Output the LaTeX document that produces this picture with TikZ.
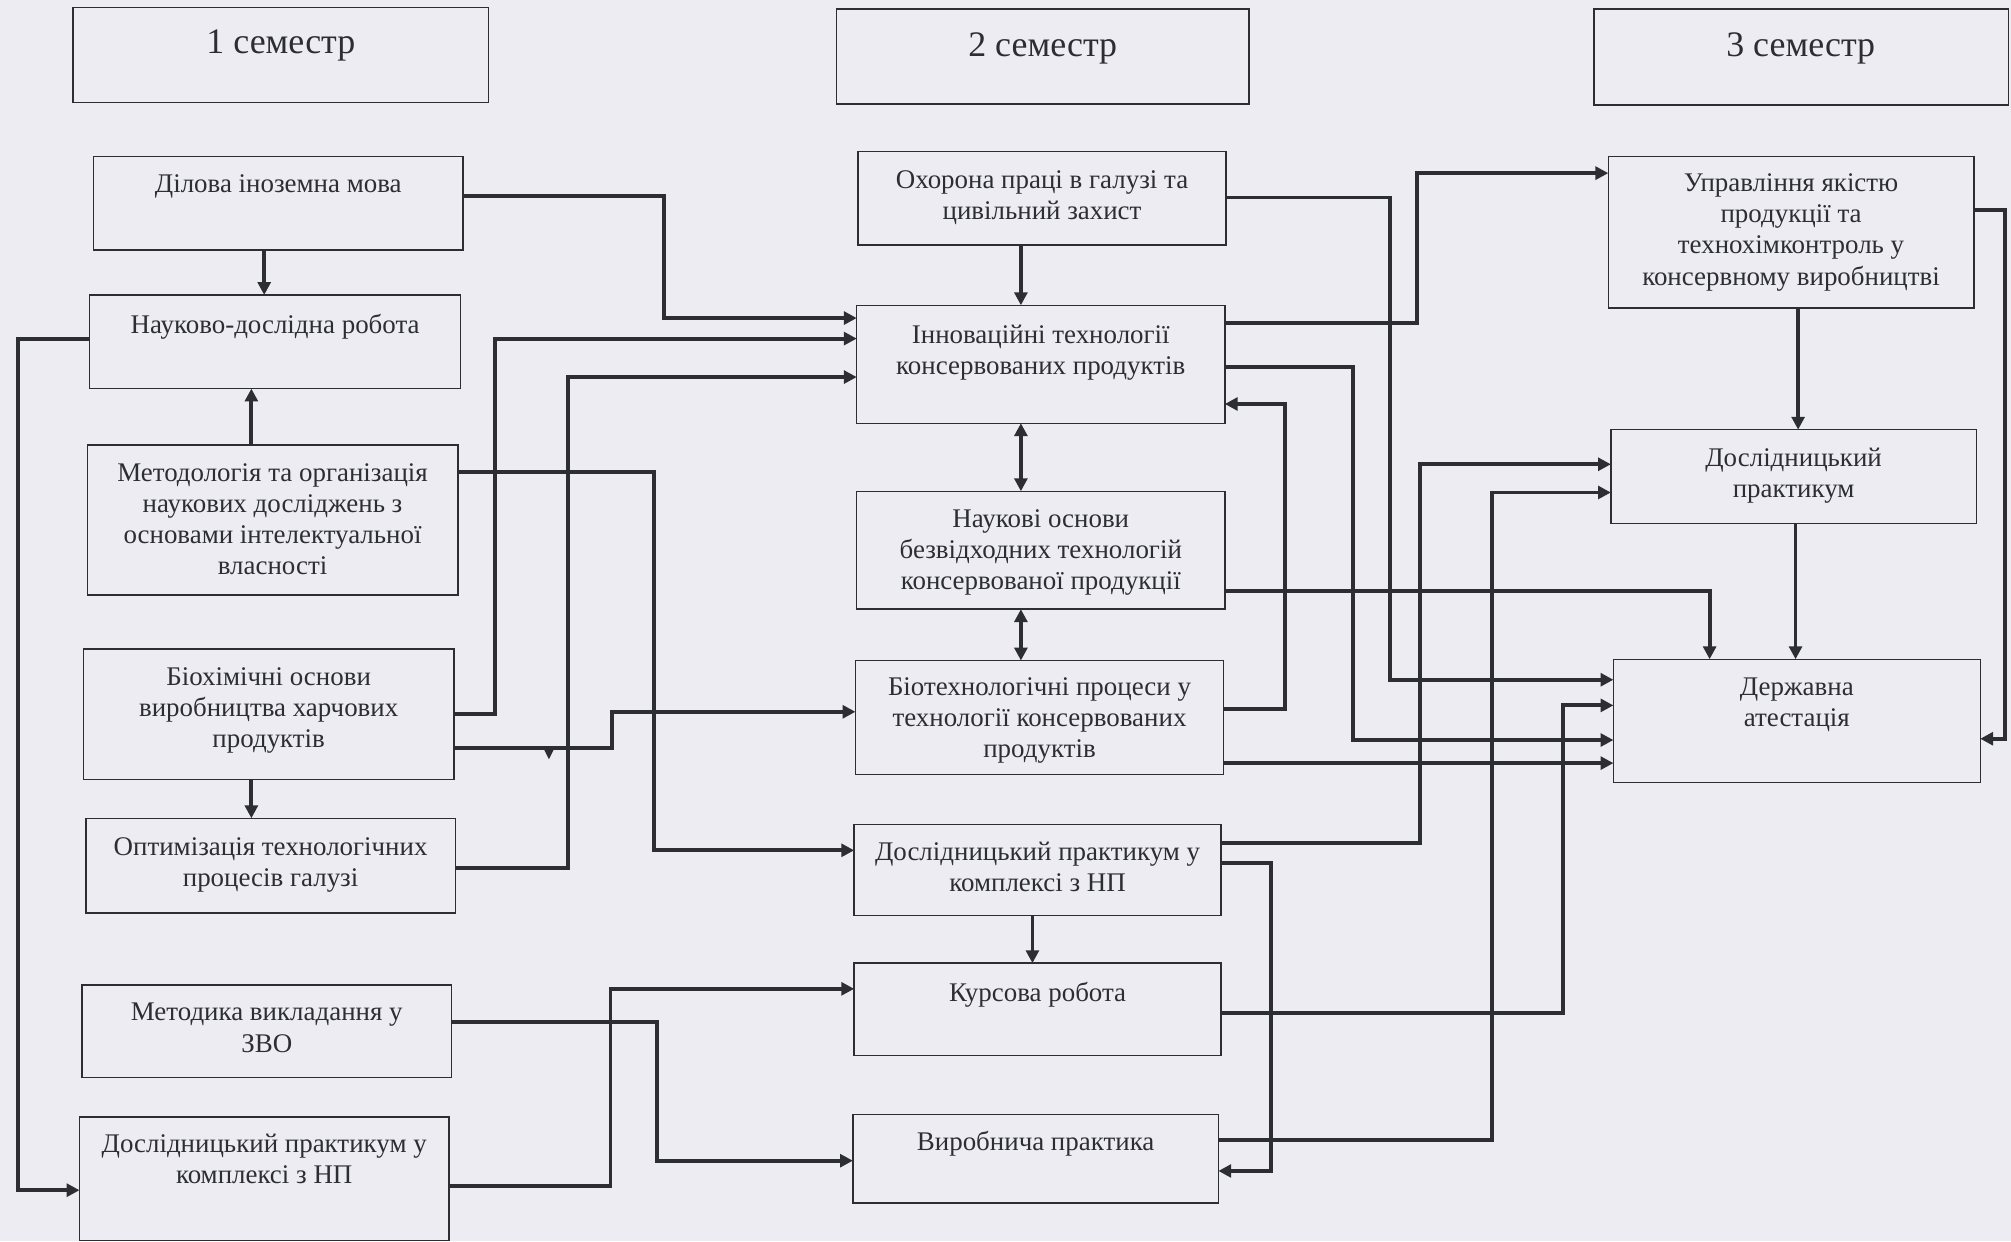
\documentclass[tikz,border=0pt]{standalone}
\usepackage{fontspec}
\setmainfont{Liberation Serif}
\usetikzlibrary{arrows.meta}
\definecolor{bg}{RGB}{237,236,243}
\definecolor{ink}{RGB}{45,45,52}
\newcommand\mkbox[7]{%
  \node[box, minimum width={#4-#2}, minimum height={#5-#3}] (#1) at (#2,#3) {};
  \node[txt] (#1t) at ({(#2+#4)/2},{#6-7}) {#7};}
\begin{document}
\begin{tikzpicture}[x=1pt,y=-1pt,
  box/.style={draw=ink, line width=1.1pt, fill=bg, rectangle, inner sep=0pt, outer sep=0pt, anchor=north west},
  txt/.style={font=\fontsize{21}{24.4}\selectfont, align=center, inner sep=0pt, anchor=north, text=ink},
  hdr/.style={font=\fontsize{28}{31}\selectfont, inner sep=0pt, anchor=north, text=ink},
  tip/.tip={Triangle[length=10pt,width=10pt]},
  conn/.style={draw=ink, line width=3pt, -tip},
  dconn/.style={draw=ink, line width=3pt, tip-tip}]
\fill[bg] (0,0) rectangle (1568,968);
\useasboundingbox (0,0) rectangle (1568,968);

% headers
\node[box, minimum width=324, minimum height=74] (h1) at (57,6) {};
\node[hdr] (h1t) at (219,23) {1 семестр};
\node[box, minimum width=322, minimum height=74] (h2) at (652,7) {};
\node[hdr] (h2t) at (813,25) {2 семестр};
\node[box, minimum width=323, minimum height=75] (h3) at (1243,7) {};
\node[hdr] (h3t) at (1404,25) {3 семестр};

% column 1
\mkbox{a1}{73}{122}{361}{195}{143}{Ділова іноземна мова}
\mkbox{a2}{70}{230}{359}{303}{252}{Науково-дослідна робота}
\mkbox{a3}{68}{347}{357}{464}{368}{Методологія та організація\\наукових досліджень з\\основами інтелектуальної\\власності}
\mkbox{a4}{65}{506}{354}{608}{527}{Біохімічні основи\\виробництва харчових\\продуктів}
\mkbox{a5}{67}{638}{355}{712}{660}{Оптимізація технологічних\\процесів галузі}
\mkbox{a6}{64}{768}{352}{840}{789}{Методика викладання у\\ЗВО}
\mkbox{a7}{62}{871}{350}{967}{891}{Дослідницький практикум у\\комплексі з НП}

% column 2
\mkbox{b1}{669}{118}{956}{191}{140}{Охорона праці в галузі та\\цивільний захист}
\mkbox{b2}{668}{238}{955}{330}{260}{Інноваційні технології\\консервованих продуктів}
\mkbox{b3}{668}{383}{955}{475}{404}{Наукові основи\\безвідходних технологій\\консервованої продукції}
\mkbox{b4}{667}{515}{954}{604}{535}{Біотехнологічні процеси у\\технології консервованих\\продуктів}
\mkbox{b5}{666}{643}{952}{714}{663}{Дослідницький практикум у\\комплексі з НП}
\mkbox{b6}{666}{751}{952}{823}{773}{Курсова робота}
\mkbox{b7}{665}{869}{950}{938}{889}{Виробнича практика}

% column 3
\mkbox{c1}{1254}{122}{1539}{240}{142}{Управління якістю\\продукції та\\технохімконтроль у\\консервному виробництві}
\mkbox{c2}{1256}{335}{1541}{408}{356}{Дослідницький\\практикум}
\mkbox{c3}{1258}{514}{1544}{610}{535}{Державна\\атестація}

% column 1 connectors
\draw[conn] (a1.south -| 206,0) -- (a2.north -| 206,0);
\draw[conn] (a3.north -| 196,0) -- (a2.south -| 196,0);
\draw[conn] (a4.south -| 196,0) -- (a5.north -| 196,0);
\draw[conn] (a1.east |- 0,153) -- (518,153) -- (518,248) -- (b2.west |- 0,248);
\draw[conn] (a2.west |- 0,264) -- (14,264) -- (14,928) -- (a7.west |- 0,928);
\draw[conn] (a4.east |- 0,557) -- (386,557) -- (386,264) -- (b2.west |- 0,264);
\draw[conn] (a5.east |- 0,677) -- (443,677) -- (443,294) -- (b2.west |- 0,294);
\draw[conn] (a3.east |- 0,368) -- (510,368) -- (510,663) -- (b5.west |- 0,663);
\draw[conn] (a4.east |- 0,583) -- (477,583) -- (477,555) -- (b4.west |- 0,555);
\draw[conn] (a6.east |- 0,797) -- (512,797) -- (512,905) -- (b7.west |- 0,905);
\draw[conn] (a7.east |- 0,925) -- (476,925) -- (476,771) -- (b6.west |- 0,771);
\fill[ink] (423.5,583) -- (432.5,583) -- (428,592) -- cycle;

% column 2 connectors
\draw[conn] (b1.south -| 796,0) -- (b2.north -| 796,0);
\draw[dconn] (b2.south -| 796,0) -- (b3.north -| 796,0);
\draw[dconn] (b3.south -| 796,0) -- (b4.north -| 796,0);
\draw[conn] (b5.south -| 805,0) -- (b6.north -| 805,0);
\draw[conn] (b1.east |- 0,154) -- (1084,154) -- (1084,530) -- (c3.west |- 0,530);
\draw[conn] (b2.east |- 0,252) -- (1105,252) -- (1105,135) -- (c1.west |- 0,135);
\draw[conn] (b2.east |- 0,286) -- (1055,286) -- (1055,577) -- (c3.west |- 0,577);
\draw[conn] (b4.east |- 0,553) -- (1002,553) -- (1002,315) -- (b2.east |- 0,315);
\draw[conn] (b3.east |- 0,461) -- (1333,461) -- (c3.north -| 1333,0);
\draw[conn] (b4.east |- 0,595) -- (c3.west |- 0,595);
\draw[conn] (b5.east |- 0,657) -- (1107,657) -- (1107,362) -- (c2.west |- 0,362);
\draw[conn] (b5.east |- 0,673) -- (991,673) -- (991,913) -- (b7.east |- 0,913);
\draw[conn] (b6.east |- 0,790) -- (1219,790) -- (1219,550) -- (c3.west |- 0,550);
\draw[conn] (b7.east |- 0,889) -- (1163,889) -- (1163,384) -- (c2.west |- 0,384);

% column 3 connectors
\draw[conn] (c1.south -| 1402,0) -- (c2.north -| 1402,0);
\draw[conn] (c2.south -| 1400,0) -- (c3.north -| 1400,0);
\draw[conn] (c1.east |- 0,164) -- (1563,164) -- (1563,576) -- (c3.east |- 0,576);
\end{tikzpicture}
\end{document}
